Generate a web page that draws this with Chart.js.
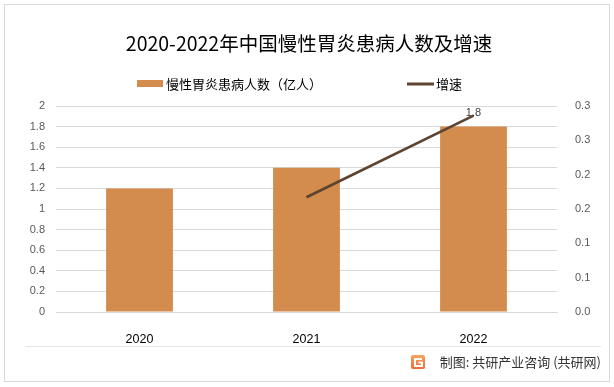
<!DOCTYPE html>
<html>
<head>
<meta charset="utf-8">
<script src="https://cdn.jsdelivr.net/npm/chart.js@4.4.0/dist/chart.umd.min.js"></script>
<style>
  html, body { margin: 0; padding: 0; background: #fff; }
  canvas { display: block; }
</style>
</head>
<body>
<canvas id="c" width="614" height="387"></canvas>
<script>
const years = ['2020', '2021', '2022'];
const patients = [1.2, 1.4, 1.8];          // 亿人
const growth = [null, 0.167, 0.286];       // 增速
const rightTickLabels = ['0.0', '0.1', '0.1', '0.2', '0.2', '0.3', '0.3'];
const pointLabel = '1.8';

const titleText = '2020-2022年中国慢性胃炎患病人数及增速';
const barName = '慢性胃炎患病人数（亿人）';
const lineName = '增速';
const sourceText = '制图: 共研产业咨询 (共研网)';

const barColor = '#D48C4E';
const lineColor = '#5E4430';
const cjk = '"Noto Sans CJK SC", "Noto Sans", sans-serif';

const decor = {
    id: 'decor',
    afterDraw(chart) {
        const ctx = chart.ctx;
        ctx.save();
        // frame
        ctx.strokeStyle = '#D9D9D9';
        ctx.lineWidth = 1;
        ctx.strokeRect(4.5, 4.5, 605, 377);

        // title
        ctx.fillStyle = '#000';
        ctx.font = '19.5px ' + cjk;
        ctx.textAlign = 'center';
        ctx.textBaseline = 'middle';
        ctx.fillText(titleText, 309, 44);

        // legend
        ctx.font = '13px ' + cjk;
        ctx.textAlign = 'left';
        ctx.fillStyle = barColor;
        ctx.fillRect(137, 80, 26, 7);
        ctx.fillStyle = '#000';
        ctx.fillText(barName, 166, 84);
        ctx.strokeStyle = lineColor;
        ctx.lineWidth = 3;
        ctx.beginPath();
        ctx.moveTo(407, 84);
        ctx.lineTo(434, 84);
        ctx.stroke();
        ctx.fillText(lineName, 436, 84);

        // label near last line point
        const meta = chart.getDatasetMeta(1);
        const pt = meta.data[2];
        ctx.font = '11px "Liberation Sans", sans-serif';
        ctx.fillStyle = '#404040';
        ctx.textAlign = 'center';
        ctx.fillText(pointLabel, pt.x, pt.y - 3);

        // separator
        ctx.strokeStyle = '#E6E6E6';
        ctx.lineWidth = 1;
        ctx.beginPath();
        ctx.moveTo(25, 346.5);
        ctx.lineTo(601, 346.5);
        ctx.stroke();

        // logo
        const g = ctx.createLinearGradient(411, 355, 411, 369);
        g.addColorStop(0, '#F7A35C');
        g.addColorStop(1, '#EE6A3A');
        ctx.fillStyle = g;
        ctx.beginPath();
        ctx.roundRect(411, 355, 14, 14, 2);
        ctx.fill();
        ctx.strokeStyle = '#fff';
        ctx.lineWidth = 2;
        ctx.beginPath();
        ctx.moveTo(422, 359);
        ctx.lineTo(415, 359);
        ctx.lineTo(415, 366);
        ctx.lineTo(422, 366);
        ctx.lineTo(422, 362.5);
        ctx.lineTo(418.5, 362.5);
        ctx.stroke();

        // source
        ctx.fillStyle = '#333';
        ctx.font = '13px ' + cjk;
        ctx.textAlign = 'right';
        ctx.fillText(sourceText, 601, 362);
        ctx.restore();
    }
};

new Chart(document.getElementById('c'), {
    data: {
        labels: years,
        datasets: [
            {
                type: 'bar',
                label: barName,
                data: patients,
                backgroundColor: barColor,
                barPercentage: 0.4,
                categoryPercentage: 1,
                yAxisID: 'y',
                order: 1
            },
            {
                type: 'line',
                label: lineName,
                data: growth,
                borderColor: lineColor,
                backgroundColor: lineColor,
                borderWidth: 2.75,
                pointRadius: 0,
                tension: 0,
                yAxisID: 'y1',
                order: 0
            }
        ]
    },
    options: {
        responsive: false,
        animation: false,
        devicePixelRatio: 1,
        layout: { padding: { top: 106, left: 0, right: 0, bottom: 0 } },
        plugins: {
            legend: { display: false },
            title: { display: false },
            tooltip: { enabled: false }
        },
        scales: {
            x: {
                offset: true,
                grid: { display: false },
                border: { color: '#D9D9D9' },
                ticks: {
                    color: '#000',
                    padding: 12,
                    font: { family: '"Liberation Sans", sans-serif', size: 12.5 }
                },
                afterFit(s) { s.height = 75; }
            },
            y: {
                position: 'left',
                min: 0,
                max: 2,
                grid: { color: '#D9D9D9', drawTicks: false },
                border: { display: false },
                ticks: {
                    stepSize: 0.2,
                    padding: 11,
                    color: '#595959',
                    font: { family: '"Liberation Sans", sans-serif', size: 11 },
                    callback: v => String(+v.toFixed(1))
                },
                afterFit(s) { s.width = 56; }
            },
            y1: {
                position: 'right',
                min: 0,
                max: 0.3,
                grid: { display: false },
                border: { display: false },
                ticks: {
                    stepSize: 0.05,
                    padding: 10,
                    color: '#595959',
                    font: { family: '"Liberation Sans", sans-serif', size: 11 },
                    callback: (v, i) => rightTickLabels[i]
                },
                afterFit(s) { s.width = 57; }
            }
        }
    },
    plugins: [decor]
});
</script>
</body>
</html>
